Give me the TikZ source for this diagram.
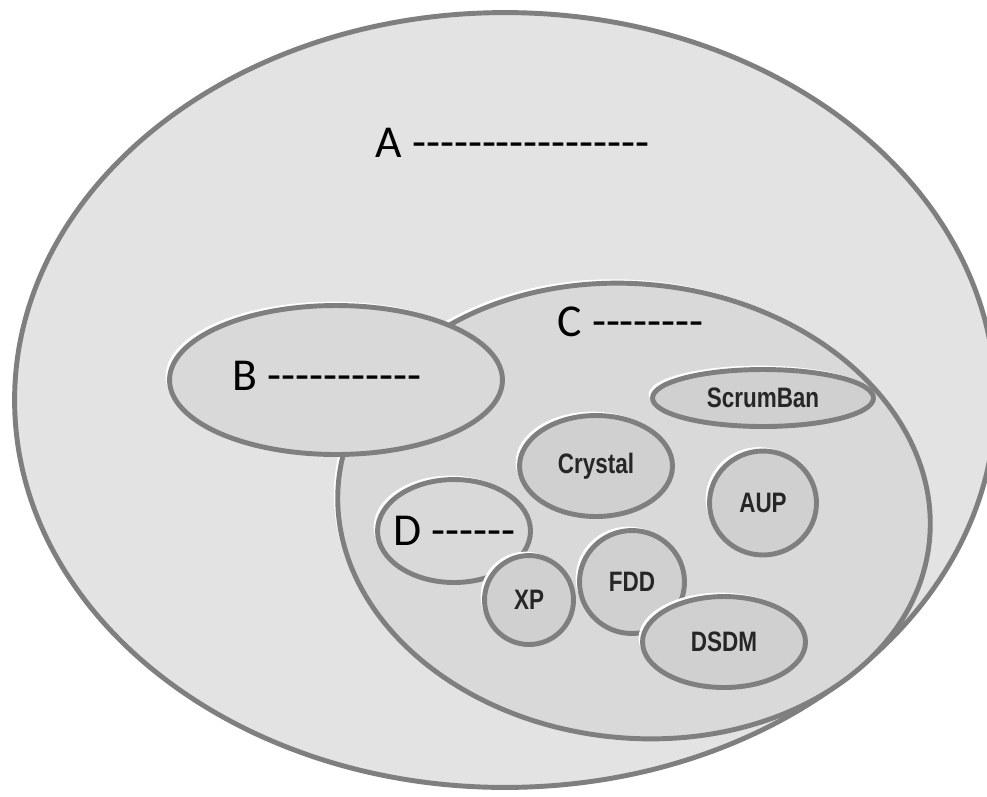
\documentclass[tikz,border=0pt]{standalone}
\usepackage{fontspec}
\setmainfont{Carlito}[Ligatures=TeXOff]
\newfontfamily\methodfont{Liberation Sans}
\usetikzlibrary{shapes.geometric,shadows}
\definecolor{outerfill}{HTML}{E3E3E3}
\definecolor{setfill}{HTML}{D9D9D9}
\definecolor{methodfill}{HTML}{D0D0D0}
\definecolor{rim}{HTML}{7F7F7F}
\tikzset{
  set/.style={ellipse, draw=rim, line width=2.8pt, fill=setfill, inner sep=0pt,
    drop shadow={shadow xshift=-2.2pt, shadow yshift=2.2pt, fill=white, opacity=1}},
  method/.style={set, fill=methodfill, font=\methodfont\bfseries\fontsize{16}{18}\selectfont, text=black!85},
  setlabel/.style={font=\fontsize{26}{30}\selectfont, anchor=west, inner sep=0pt}
}
\newcommand{\narrow}[1]{\scalebox{0.8}[1]{#1}}

\begin{document}
\begin{tikzpicture}[x=0.02cm, y=-0.02cm]

\useasboundingbox (0,0) rectangle (987,796);
\clip (0,0) rectangle (987,796);

% outer set
\node[set, fill=outerfill, drop shadow={opacity=0}, minimum width=19.62cm, minimum height=15.5cm] (setA) at (505,400) {};
\node[setlabel] (labA) at (375,143) {A -----------------};

% middle sets
\node[set, rotate=-6, minimum width=11.88cm, minimum height=9.08cm] (setC) at (634,511) {};
\node[setlabel] (labC) at (557,322) {C --------};
\node[set, minimum width=6.66cm, minimum height=2.98cm] (setB) at (336,380) {};
\node[setlabel] (labB) at (232,376) {B -----------};

% methods
\node[method, minimum width=4.42cm, minimum height=1.14cm] (scrumban) at (763,398) {\narrow{ScrumBan}};
\node[method, minimum width=3.06cm, minimum height=2.02cm] (crystal) at (596,466) {\narrow{Crystal}};
\node[method, minimum width=2.14cm, minimum height=2.08cm] (aup) at (763,503) {\narrow{AUP}};
\node[set, minimum width=3.06cm, minimum height=2.06cm] (setD) at (454,531) {};
\node[setlabel] (labD) at (393,531) {D ------};
\node[method, minimum width=1.78cm, minimum height=1.78cm] (xp) at (529,600) {\narrow{XP}};
\node[method, minimum width=2.1cm, minimum height=2.06cm] (fdd) at (632,582) {\narrow{FDD}};
\node[method, minimum width=3.26cm, minimum height=1.82cm] (dsdm) at (724,642) {\narrow{DSDM}};

\end{tikzpicture}
\end{document}
